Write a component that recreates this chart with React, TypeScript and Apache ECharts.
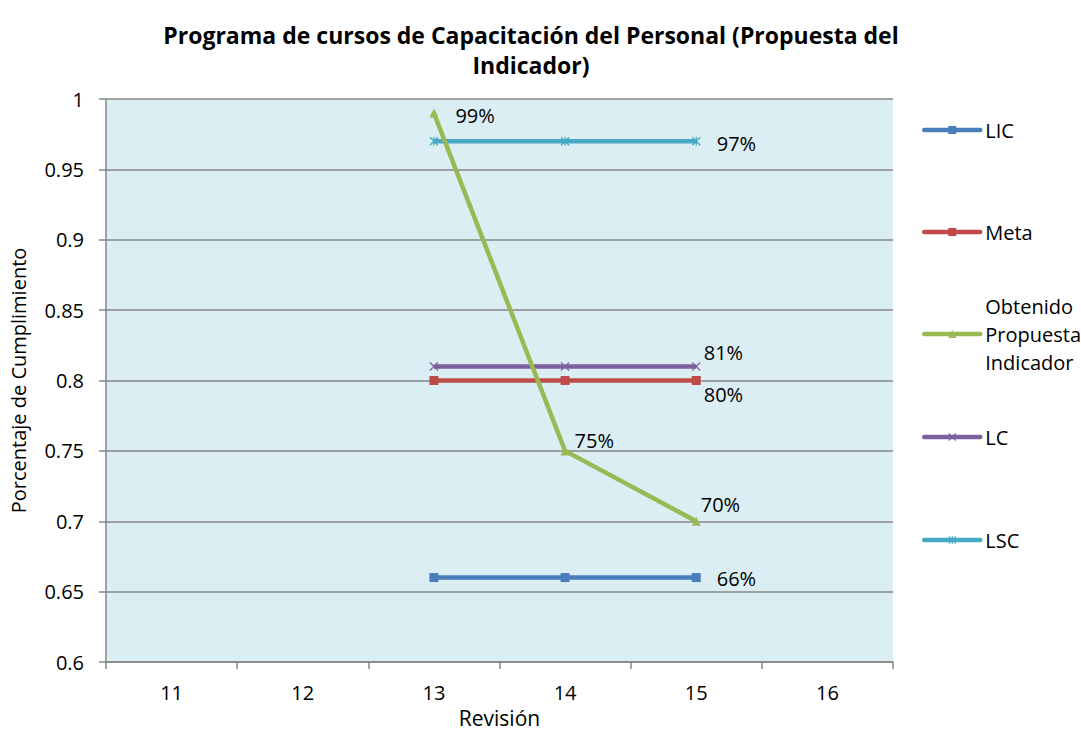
import React, { useEffect, useRef } from "react";
import * as echarts from "echarts";

const categories = ["11", "12", "13", "14", "15", "16"];
const licValues = [null, null, 0.66, 0.66, 0.66, null];
const metaValues = [null, null, 0.8, 0.8, 0.8, null];
const obtenidoValues = [null, null, 0.99, 0.75, 0.7, null];
const lcValues = [null, null, 0.81, 0.81, 0.81, null];
const lscValues = [null, null, 0.97, 0.97, 0.97, null];
const yTicks = { min: 0.6, max: 1, interval: 0.05 };

const FONT = "Open Sans";

// label offsets per point (style only)
const labelOffsets: Record<string, (number[] | null)[]> = {
  LIC: [null, null, null, null, [11, 1], null],
  Meta: [null, null, null, null, [-2, 14], null],
  Obtenido: [null, null, [12, 2], [0, -10], [-5, -17], null],
  LC: [null, null, null, null, [-2, -14], null],
  LSC: [null, null, null, null, [11, 2], null],
};

const X_PATH =
  "path://M0,1 L1,0 L5,4 L9,0 L10,1 L6,5 L10,9 L9,10 L5,6 L1,10 L0,9 L4,5 Z";
const STAR_PATH =
  "path://M0,1 L1,0 L5,4 L9,0 L10,1 L6,5 L10,9 L9,10 L5,6 L1,10 L0,9 L4,5 Z M4.3,0 L5.7,0 L5.7,10 L4.3,10 Z";

function buildData(name: string, values: (number | null)[]) {
  return values.map((v, i) => {
    if (v == null) return null;
    const off = labelOffsets[name][i];
    if (!off) return { value: v, label: { show: false } };
    return {
      value: v,
      label: {
        show: true,
        position: "right",
        offset: off,
        formatter: (p: any) => Math.round(p.value * 100) + "%",
        fontFamily: FONT,
        fontSize: 20,
        color: "#000",
      },
    };
  });
}

export default function App() {
  const ref = useRef<HTMLDivElement>(null);
  useEffect(() => {
    const chart = echarts.init(ref.current!, null, { renderer: "svg" });
    const seriesDefs = [
      { name: "LIC", values: licValues, color: "#4A7EBB", symbol: "rect" },
      { name: "Meta", values: metaValues, color: "#BE4B48", symbol: "rect" },
      { name: "Obtenido Propuesta Indicador", key: "Obtenido", values: obtenidoValues, color: "#98B954", symbol: "triangle" },
      { name: "LC", values: lcValues, color: "#7D60A0", symbol: X_PATH },
      { name: "LSC", values: lscValues, color: "#46AAC5", symbol: STAR_PATH },
    ];
    const legendTops = [130, 232, 334, 437, 540];
    const legends = seriesDefs.map((s, i) => {
      const multi = s.name === "Obtenido Propuesta Indicador";
      return {
        data: [s.name],
        left: 922,
        top: legendTops[i] - (multi ? 70 : 10),
        padding: 0,
        itemWidth: 56,
        itemHeight: 10,
        itemGap: 0,
        selectedMode: false,
        lineStyle: { width: 4.5, cap: "round" },
        formatter: multi ? "Obtenido\nPropuesta\nIndicador" : "{name}",
        textStyle: multi
          ? { fontFamily: FONT, fontSize: 20, lineHeight: 28, color: "#000", padding: [56, 0, 0, 0] }
          : { fontFamily: FONT, fontSize: 20, lineHeight: 20, color: "#000" },
      };
    });
    chart.setOption({
      animation: false,
      backgroundColor: "#fff",
      title: {
        text: "Programa de cursos de Capacitación del Personal (Propuesta del\nIndicador)",
        left: 531,
        top: 20,
        padding: 0,
        textAlign: "center",
        textStyle: {
          fontFamily: FONT,
          fontWeight: "bold",
          fontSize: 23,
          lineHeight: 30,
          color: "#000",
        },
      },
      legend: legends,
      grid: {
        left: 106,
        right: 188,
        top: 99,
        bottom: 69,
        show: true,
        backgroundColor: "#DBEEF4",
        borderWidth: 0,
        containLabel: false,
        outerBoundsMode: "none",
      },
      xAxis: {
        type: "category",
        data: categories,
        boundaryGap: true,
        name: "Revisión",
        nameLocation: "middle",
        nameGap: 44,
        nameTextStyle: { fontFamily: FONT, fontSize: 21, lineHeight: 22, color: "#000" },
        axisLine: { show: true, lineStyle: { color: "#868686", width: 1.5 } },
        axisTick: { show: true, length: 7, lineStyle: { color: "#868686", width: 1.5 } },
        axisLabel: { fontFamily: FONT, fontSize: 20, lineHeight: 20, color: "#000", margin: 20 },
        splitLine: { show: false },
      },
      yAxis: {
        type: "value",
        min: yTicks.min,
        max: yTicks.max,
        interval: yTicks.interval,
        name: "Porcentaje de Cumplimiento",
        nameLocation: "middle",
        nameGap: 75,
        nameTextStyle: { fontFamily: FONT, fontSize: 20, lineHeight: 26, color: "#000" },
        axisLine: { show: true, lineStyle: { color: "#868686", width: 1.5 } },
        axisTick: { show: true, length: 7, lineStyle: { color: "#868686", width: 1.5 } },
        axisLabel: {
          fontFamily: FONT,
          fontSize: 20,
          color: "#000",
          margin: 22,
          formatter: (v: number) => String(parseFloat(v.toFixed(2))),
        },
        splitLine: { show: true, lineStyle: { color: "#868686", width: 1.5 } },
      },
      series: seriesDefs.map((s) => ({
        name: s.name,
        type: "line",
        data: buildData((s as any).key || s.name, s.values),
        symbol: s.symbol,
        symbolSize: 9,
        connectNulls: false,
        color: s.color,
        lineStyle: { color: s.color, width: 4.5 },
        itemStyle: { color: s.color },
        emphasis: { disabled: true },
        z: s.name === "Obtenido Propuesta Indicador" ? 3 : 2,
      })),
    });
    return () => chart.dispose();
  }, []);
  return (
    <div
      ref={ref}
      style={{ position: "absolute", left: 0, top: 0, width: 1081, height: 731 }}
    />
  );
}
